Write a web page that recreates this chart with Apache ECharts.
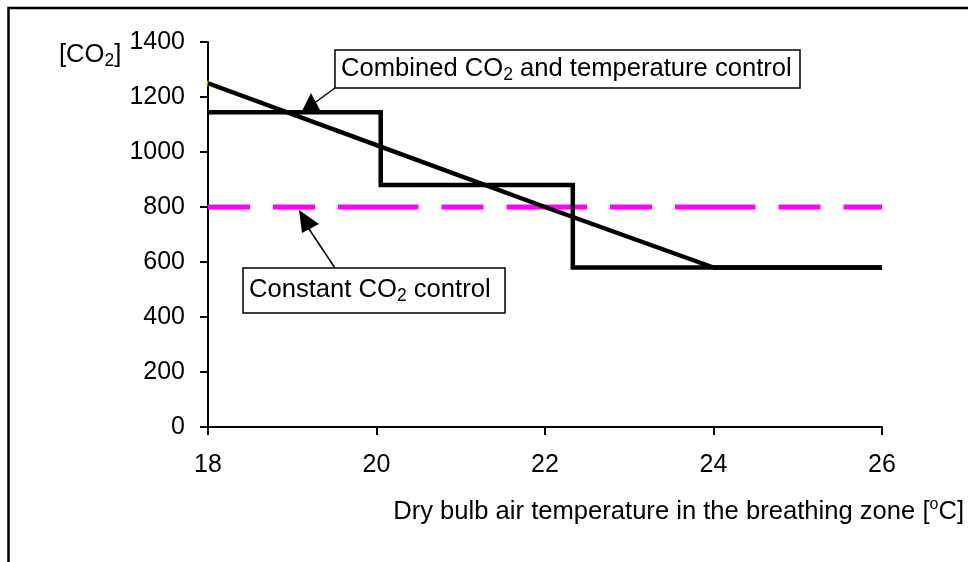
<!DOCTYPE html>
<html>
<head>
<meta charset="utf-8">
<style>
    html, body { margin: 0; padding: 0; background: #fff; }
    #chart { width: 968px; height: 562px; }
</style>
<script src="https://cdn.jsdelivr.net/npm/echarts@6.0.0/dist/echarts.min.js"></script>
</head>
<body>
<div id="chart"></div>
<script type="text/javascript">
    // values
    var constX = [18, 20, 22, 24, 26];
    var constCO2 = [800, 800, 800, 800, 800];
    var rampX = [18, 20, 22, 24, 26];
    var rampCO2 = [1250, 1025, 800, 580, 580];
    var stepX = [18, 20.05, 22.33, 26];
    var stepCO2 = [1145, 880, 580, 580];

    var FONT = '"Liberation Sans", Arial, sans-serif';

    // constant line: one sub-path per segment so the dash restarts like in Excel
    var constData = [];
    for (var i = 0; i < constX.length - 1; i++) {
        constData.push([constX[i], constCO2[i]], [constX[i + 1], constCO2[i + 1]], [constX[i + 1], '-']);
    }
    var rampData = rampX.map(function (x, i) { return [x, rampCO2[i]]; });
    var stepData = stepX.map(function (x, i) { return [x, stepCO2[i]]; });
    var markerData = rampData.slice(0, 4);

    var rich = {
        n: { fontSize: 25.6, fontFamily: FONT, fill: '#000', lineHeight: 30 },
        s: { fontSize: 17.5, fontFamily: FONT, fill: '#000', lineHeight: 17.5, verticalAlign: 'bottom' },
        p: { fontSize: 16, fontFamily: FONT, fill: '#000', lineHeight: 16, verticalAlign: 'top' }
    };

    function label(str, x, y, align) {
        return {
            type: 'text', silent: true, z: 100,
            style: { text: str, x: x, y: y, align: align || 'left', verticalAlign: 'middle', rich: rich, fontSize: 25, fontFamily: FONT, fill: '#000' }
        };
    }
    function box(x, y, w, h) {
        return { type: 'rect', silent: true, z: 90, shape: { x: x, y: y, width: w, height: h },
            style: { fill: '#fff', stroke: '#000', lineWidth: 1.5 } };
    }
    function seg(x1, y1, x2, y2) {
        return { type: 'line', silent: true, z: 90, shape: { x1: x1, y1: y1, x2: x2, y2: y2 },
            style: { stroke: '#000', lineWidth: 1.5 } };
    }
    function tri(pts) {
        return { type: 'polygon', silent: true, z: 90, shape: { points: pts }, style: { fill: '#000' } };
    }

    var myChart = echarts.init(document.getElementById('chart'));
    myChart.setOption({
        animation: false,
        backgroundColor: '#fff',
        grid: { left: 208, top: 42, right: 86, bottom: 135, containLabel: false },
        xAxis: {
            type: 'value', min: 18, max: 26, interval: 2,
            axisLine: { lineStyle: { color: '#000', width: 2 } },
            axisTick: { length: 8, lineStyle: { color: '#000', width: 2 } },
            axisLabel: { color: '#000', fontSize: 25, fontFamily: FONT, margin: 26 },
            splitLine: { show: false }
        },
        yAxis: {
            type: 'value', min: 0, max: 1400, interval: 200,
            axisLine: { show: true, lineStyle: { color: '#000', width: 2 } },
            axisTick: { show: true, length: 8, lineStyle: { color: '#000', width: 2 } },
            axisLabel: { color: '#000', fontSize: 25, fontFamily: FONT, margin: 23,
                formatter: function (v) { return String(v); } },
            splitLine: { show: false }
        },
        series: [
            {
                name: 'Constant CO2 control', type: 'line', data: constData, clip: false,
                showSymbol: false, connectNulls: false, silent: true,
                lineStyle: { color: '#ff00ff', width: 5, type: [42, 23], cap: 'butt' }
            },
            {
                type: 'scatter', data: markerData, symbol: 'triangle', symbolSize: 6, silent: true,
                itemStyle: { color: '#ffff00' }
            },
            {
                name: 'Stepwise', type: 'line', step: 'end', data: stepData, clip: false,
                showSymbol: false, silent: true,
                lineStyle: { color: '#000', width: 4.5, cap: 'butt', join: 'miter' }
            },
            {
                name: 'Combined CO2 and temperature control', type: 'line', data: rampData, clip: false,
                showSymbol: false, silent: true,
                lineStyle: { color: '#000', width: 4.5, cap: 'butt' }
            }
        ],
        graphic: [
            // outer frame (only top and left edges are in view)
            { type: 'rect', silent: true, shape: { x: 8.5, y: 8, width: 1200, height: 800 },
              style: { fill: null, stroke: '#000', lineWidth: 2.5 } },
            label('{n|[CO}{s|2}{n|]}', 59, 55),
            label('{n|Dry bulb air temperature in the breathing zone [}{p|o}{n|C]}', 964, 512, 'right'),
            // combined annotation
            seg(335, 88, 313, 104),
            tri([[311, 93], [301, 113], [320, 110]]),
            box(335, 50, 465, 38),
            label('{n|Combined CO}{s|2}{n| and temperature control}', 341, 69),
            // constant annotation
            seg(335, 268, 307, 226),
            tri([[299, 210], [319, 224], [302, 233]]),
            box(243, 268, 262, 45),
            label('{n|Constant CO}{s|2}{n| control}', 249, 290)
        ]
    });
</script>
</body>
</html>
